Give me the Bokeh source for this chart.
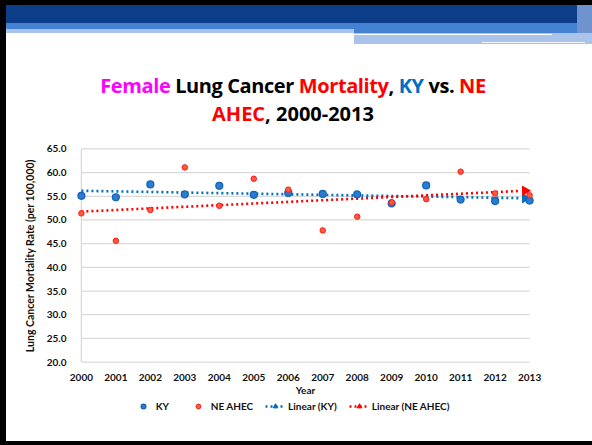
import numpy as np
from bokeh.plotting import figure
from bokeh.models import Range1d, FixedTicker, PrintfTickFormatter, Legend, LegendItem, Div
from bokeh.layouts import column, row
from bokeh.embed import file_html
from bokeh.resources import INLINE

# ---------------- data ----------------
years = [2000, 2001, 2002, 2003, 2004, 2005, 2006, 2007, 2008, 2009, 2010, 2011, 2012, 2013]
ky = [55.1, 54.8, 57.5, 55.4, 57.2, 55.3, 55.7, 55.5, 55.4, 53.5, 57.3, 54.3, 54.0, 54.1]
ne_ahec = [51.4, 45.6, 52.1, 61.1, 53.0, 58.7, 56.4, 47.8, 50.7, 53.7, 54.4, 60.2, 55.6, 55.2]
y_ticks = [20, 25, 30, 35, 40, 45, 50, 55, 60, 65]
x_ticks = years
series_names = ["KY", "NE AHEC"]
trend_names = ["Linear (KY)", "Linear (NE AHEC)"]
y_label = "Lung Cancer Mortality Rate (per 100,000)"
x_label = "Year"
title_line1 = ["Female", "Lung Cancer", "Mortality", ",", "KY", "vs.", "NE"]
title_line2 = ["AHEC", ", 2000-2013"]

# ---------------- styles ----------------
FONT = "Lato"
TFONT = "Open Sans"
BLUE = "#0070C0"
RED = "#FF0000"
MAGENTA = "#FF00FF"
BLACK = "#000000"
title1_colors = [MAGENTA, BLACK, RED, BLACK, BLUE, BLACK, RED]
title1_sep = ["", " ", " ", "", " ", " ", " "]
title2_colors = [RED, BLACK]
title2_sep = ["", ""]

EDGE = 6          # slide's black left border
W = 592 - EDGE    # content width
BL, BR = 68, 56   # figure borders so the plot frames sit where the reference has them

# ---------------- header (slide decoration + multi-coloured title) ----------------
bars = [
    (0, 0, W, 5, "#000000"),
    (0, 5, 571, 18, "#0B3D88"),
    (0, 23, 571, 6, "#4682D2"),
    (348, 29, 238, 3.5, "#4682D2"),
    (0, 29, 348, 4, "#A9C3EA"),
    (348, 32.5, 238, 11.5, "#A9C3EA"),
    (348, 33.5, 198, 1.8, "#FFFFFF"),
    (476, 41.5, 103, 1.5, "#F2F6FC"),
    (571, 5, 15, 27.5, "#6F93CF"),
]
bar_html = "".join(
    f'<div style="position:absolute;left:{x}px;top:{y}px;width:{w}px;height:{h}px;background:{c};"></div>'
    for x, y, w, h, c in bars
)


def spans(words, colors, seps):
    return "".join(f'{s}<span style="color:{c}">{w}</span>' for w, c, s in zip(words, colors, seps))


title_html = (
    f'<div style="position:absolute;left:0px;top:71.5px;width:574px;text-align:center;'
    f'font-family:\'{TFONT}\';font-weight:bold;font-size:20px;line-height:28px;white-space:nowrap;">'
    f'<span style="letter-spacing:-0.4px">{spans(title_line1, title1_colors, title1_sep)}</span><br>'
    f'{spans(title_line2, title2_colors, title2_sep)}</div>'
)
header = Div(text=f'<div style="position:relative;width:{W}px;height:140px;overflow:hidden;">{bar_html}{title_html}</div>',
             width=W, height=140, margin=0)

# ---------------- main chart ----------------
p = figure(width=W, height=259, x_range=Range1d(1999.8, 2013.2), y_range=Range1d(19.7, 65.3),
           toolbar_location=None, output_backend="svg",
           min_border_left=BL, min_border_right=BR, min_border_top=7, min_border_bottom=36)
p.outline_line_color = None
p.xgrid.visible = False
p.ygrid.visible = False

n = len(y_ticks)
p.segment(x0=[x_ticks[0]] * n, x1=[x_ticks[-1]] * n, y0=y_ticks, y1=y_ticks,
          line_color="#D9D9D9", line_width=1.3)
p.segment(x0=[x_ticks[0]], x1=[x_ticks[0]], y0=[y_ticks[0]], y1=[y_ticks[-1]],
          line_color="#D9D9D9", line_width=1.3)

xs = np.array(years, dtype=float)
KY_STYLE = dict(size=7, fill_color="#2B7CD0", line_color="#0F62B5", line_width=1.2)
NE_STYLE = dict(size=5.5, fill_color="#FF5A3A", line_color="#FF1A1A", line_width=1)
fits = {}
for name, vals, col in [("ky", ky, BLUE), ("ne", ne_ahec, RED)]:
    m, c = np.polyfit(xs, np.array(vals), 1)
    fits[name] = (m, c, col)
    x0, x1 = xs[0], xs[-1] - 0.25
    p.line(x=[x0, x1], y=[m * x0 + c, m * x1 + c], line_color=col, line_width=2.6, line_dash="2 3")
    xa = xs[-1] - 0.13
    p.scatter(x=[xa], y=[m * xa + c], marker="triangle", size=9, angle=-np.pi / 2,
              fill_color=col, line_color=col)

p.scatter(x=years, y=ky, **KY_STYLE)
p.scatter(x=years, y=ne_ahec, **NE_STYLE)

for ax in (p.xaxis[0], p.yaxis[0]):
    ax.axis_line_color = None
    ax.major_tick_line_color = None
    ax.minor_tick_line_color = None
    ax.major_label_text_font = FONT
    ax.major_label_text_font_style = "bold"
    ax.major_label_text_font_size = "10px"
    ax.major_label_text_color = "#111111"
    ax.axis_label_text_font = FONT
    ax.axis_label_text_font_style = "bold"
    ax.axis_label_text_color = "#111111"

p.xaxis.ticker = FixedTicker(ticks=x_ticks)
p.yaxis.ticker = FixedTicker(ticks=y_ticks)
p.yaxis.formatter = PrintfTickFormatter(format="%.1f")
p.xaxis.major_label_standoff = 4
p.yaxis.major_label_standoff = 2
p.xaxis.axis_label = x_label
p.yaxis.axis_label = y_label
p.xaxis.axis_label_text_font_size = "10px"
p.yaxis.axis_label_text_font_size = "10.5px"
p.xaxis.axis_label_standoff = 0
p.yaxis.axis_label_standoff = 8

# ---------------- legend strip (same glyph styles, sampled from the data) ----------------
LH = 42
lg = figure(width=W, height=LH, x_range=Range1d(0, 1), y_range=Range1d(0, 1),
            toolbar_location=None, output_backend="svg",
            min_border_left=BL, min_border_right=BR, min_border_top=0, min_border_bottom=0)
lg.axis.visible = False
lg.grid.visible = False
lg.outline_line_color = None
l_ky = lg.scatter(x=years, y=ky, **KY_STYLE)
l_ne = lg.scatter(x=years, y=ne_ahec, **NE_STYLE)
trend_r = {}
for name in ("ky", "ne"):
    m, c, col = fits[name]
    ln = lg.line(x=years, y=[m * x + c for x in xs], line_color=col, line_width=2.6, line_dash="2 3")
    tri = lg.scatter(x=years, y=[m * x + c for x in xs], marker="triangle", size=9, angle=-np.pi / 2,
                     fill_color=col, line_color=col)
    trend_r[name] = [ln, tri]

legend = Legend(
    items=[LegendItem(label=series_names[0], renderers=[l_ky]),
           LegendItem(label=series_names[1], renderers=[l_ne]),
           LegendItem(label=trend_names[0], renderers=trend_r["ky"]),
           LegendItem(label=trend_names[1], renderers=trend_r["ne"])],
    location=(58.7, 29), orientation="horizontal", glyph_width=20, glyph_height=12,
    label_height=12, label_standoff=3, spacing=12, padding=0, margin=0,
    border_line_color=None, background_fill_alpha=0,
    label_text_font=FONT, label_text_font_style="bold", label_text_font_size="10px",
    label_text_color="#111111")
lg.add_layout(legend)

# ---------------- slide borders ----------------
footer = Div(text="", width=W, height=4, margin=0, styles={"background-color": "#000000"})
left_border = Div(text="", width=EDGE, height=445, margin=0, styles={"background-color": "#000000"})

layout = row(left_border, column(header, p, lg, footer, spacing=0), spacing=0)
open("out.html", "w").write(file_html(layout, INLINE))
